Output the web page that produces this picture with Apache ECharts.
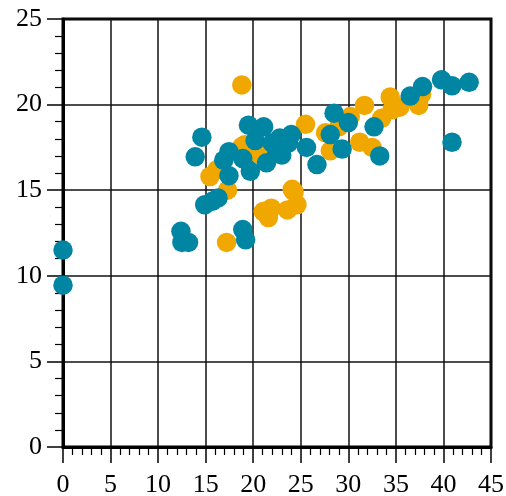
<!DOCTYPE html>
<html>
<head>
<meta charset="utf-8">
<script src="https://cdn.jsdelivr.net/npm/echarts@6/dist/echarts.min.js"></script>
<style>html,body{margin:0;padding:0;background:#fff}#c{width:506px;height:496px}</style>
</head>
<body>
<div id="c"></div>
<script>
var xTicks = [0, 5, 10, 15, 20, 25, 30, 35, 40, 45];
var yTicks = [0, 5, 10, 15, 20, 25];

var orangeSeries = [
  [15.45,15.8],[16.2,16.2],[17.3,15.0],[17.2,11.95],[18.8,21.15],[18.8,17.55],[19.1,17.65],
  [20.4,17.2],[20.9,17.0],[21.05,13.75],[21.9,13.95],[21.6,13.4],[23.6,13.85],[24.6,14.15],
  [24.1,15.05],[24.3,14.9],[25.5,18.85],[27.6,18.35],[28.1,17.3],[29.0,18.7],[30.2,19.3],
  [31.7,19.95],[31.2,17.8],[32.5,17.5],[33.5,19.2],[34.4,20.45],[34.6,19.7],[35.4,19.85],
  [37.4,19.95],[37.7,20.6]
];
var tealSeries = [
  [0,11.5],[0,9.45],[12.4,12.6],[12.5,11.95],[13.2,11.95],[18.9,12.7],[19.2,12.1],
  [13.9,16.95],[14.6,18.1],[14.9,14.15],[15.7,14.35],[16.3,14.55],[17.45,17.25],[16.9,16.75],
  [17.45,15.85],[18.9,16.85],[19.5,18.8],[21.1,18.7],[20.2,17.9],[19.7,16.1],[21.4,16.6],
  [22.0,17.75],[22.5,17.2],[22.8,18.05],[23.0,17.05],[23.7,17.75],[24.0,18.25],[25.6,17.5],
  [26.7,16.5],[28.5,19.5],[28.1,18.25],[30.0,18.95],[29.35,17.4],[32.7,18.7],[33.3,17.0],
  [36.5,20.5],[37.8,21.05],[39.8,21.45],[40.9,21.1],[42.7,21.3],[40.9,17.8]
];

var font = '"Liberation Serif", "DejaVu Serif", serif';
function axisCommon(min, max, ticks, margin) {
  return {
    type: 'value', min: min, max: max, interval: 5,
    axisLine: { show: true, onZero: false, lineStyle: { color: '#000', width: 3 } },
    axisTick: { show: true, inside: false, length: 16, lineStyle: { color: '#000', width: 1.5 } },
    minorTick: { show: true, splitNumber: 5, length: 8, lineStyle: { color: '#000', width: 1.2 } },
    splitLine: { show: true, lineStyle: { color: '#111', width: 1.5 } },
    axisLabel: { fontFamily: font, fontSize: 26, color: '#000', margin: margin,
      formatter: function (v) { return ticks.indexOf(v) >= 0 ? String(v) : ''; } }
  };
}
var chart = echarts.init(document.getElementById('c'), null, { renderer: 'canvas' });
chart.setOption({
  animation: false,
  backgroundColor: '#fff',
  grid: { left: 63, right: 15, top: 19, bottom: 49, show: true, borderColor: '#000', borderWidth: 3,
    backgroundColor: 'transparent', containLabel: false, outerBoundsMode: 'none' },
  xAxis: axisCommon(0, 45, xTicks, 25),
  yAxis: axisCommon(0, 25, yTicks, 21),
  series: [
    { type: 'scatter', data: orangeSeries, symbolSize: 19.5, itemStyle: { color: '#f0a800', opacity: 1 } },
    { type: 'scatter', data: tealSeries, symbolSize: 19.5, itemStyle: { color: '#0085a2', opacity: 1 } }
  ]
});
</script>
</body>
</html>
